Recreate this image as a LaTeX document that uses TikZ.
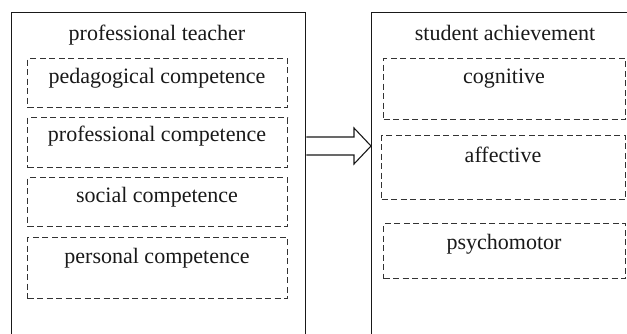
\documentclass[tikz,border=0pt]{standalone}
\usepackage{fontspec}
\setmainfont{Liberation Serif}
\usetikzlibrary{calc}
\begin{document}
\begin{tikzpicture}[x=1pt,y=-1pt,
  outer/.style={draw=black!90,line width=1.3pt,inner sep=0pt,anchor=north west},
  dbox/.style={draw=black!80,line width=1.05pt,dash pattern=on 6pt off 3.5pt,inner sep=0pt,anchor=north west},
  lbl/.style={font=\fontsize{22}{26}\selectfont,text=black!90,anchor=base,inner sep=0pt},
  arr/.style={draw=black!90,line width=1.1pt,fill=white,line join=miter}]
\useasboundingbox (0,0) rectangle (627,334);
\clip (0,0) rectangle (627,334);
% outer boxes (cut off at the bottom / right edge)
\node[outer,minimum width=294pt,minimum height=360pt] (lb) at (11,12) {};
\node[outer,minimum width=300pt,minimum height=360pt] (rb) at (371,12) {};
% left dashed boxes
\node[dbox,minimum width=260pt,minimum height=49pt] (p1) at (27,58) {};
\node[dbox,minimum width=260pt,minimum height=50pt] (p2) at (27,117) {};
\node[dbox,minimum width=260pt,minimum height=49pt] (p3) at (27,177) {};
\node[dbox,minimum width=260pt,minimum height=61pt] (p4) at (27,237) {};
% right dashed boxes
\node[dbox,minimum width=242pt,minimum height=61pt] (s1) at (383,58) {};
\node[dbox,minimum width=244pt,minimum height=64pt] (s2) at (381,135) {};
\node[dbox,minimum width=242pt,minimum height=55pt] (s3) at (383,223) {};
% labels
\node[lbl] (tl) at (157,41) {professional teacher};
\node[lbl] (t1) at (157,84) {pedagogical competence};
\node[lbl] (t2) at (157,142) {professional competence};
\node[lbl] (t3) at (157,203) {social competence};
\node[lbl] (t4) at (157,263) {personal competence};
\node[lbl] (tr) at (505,41) {student achievement};
\node[lbl] (u1) at (504,84) {cognitive};
\node[lbl] (u2) at (503,162.5) {affective};
\node[lbl] (u3) at (504,249) {psychomotor};
% block arrow from left box to right box
\coordinate (ay) at (0,146);
\coordinate (as) at (lb.east |- ay);
\coordinate (at) at (rb.west |- ay);
\draw[arr] ($(as)+(0,-9)$) -- ($(at)+(-17,-9)$) -- ($(at)+(-17,-18)$) -- (at)
  -- ($(at)+(-17,18)$) -- ($(at)+(-17,9)$) -- ($(as)+(0,9)$);
\end{tikzpicture}
\end{document}
